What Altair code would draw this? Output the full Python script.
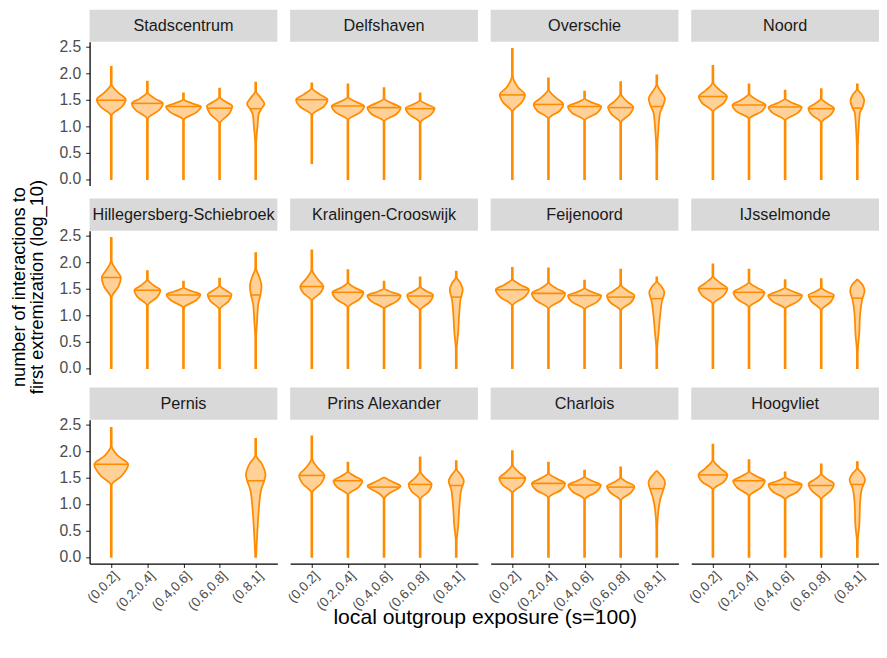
import altair as alt
import pandas as pd
import numpy as np

districts = ["Stadscentrum", "Delfshaven", "Overschie", "Noord",
             "Hillegersberg-Schiebroek", "Kralingen-Crooswijk", "Feijenoord", "IJsselmonde",
             "Pernis", "Prins Alexander", "Charlois", "Hoogvliet"]
bins = ["(0,0.2]", "(0.2,0.4]", "(0.4,0.6]", "(0.6,0.8]", "(0.8,1]"]
S = 0.012  # half-width of the thin violin tail (category units)

# Each violin: (outline points [log10 value, half-width in category units], median)
stadscentrum = [
    ([[0, S], [1.20, S], [1.37, 0.30], [1.50, 0.40], [1.63, 0.20], [1.79, S], [2.12, S]], 1.49),
    ([[0, S], [1.14, S], [1.30, 0.32], [1.43, 0.43], [1.52, 0.21], [1.64, S], [1.84, S]], 1.43),
    ([[0, S], [1.12, S], [1.26, 0.36], [1.37, 0.485], [1.43, 0.24], [1.51, S], [1.62, S]], 1.37),
    ([[0, S], [1.05, S], [1.23, 0.26], [1.38, 0.35], [1.46, 0.17], [1.55, S], [1.71, S]], 1.34),
    ([[0, S], [0.65, S], [1.0, 0.05], [1.22, 0.08], [1.32, 0.15], [1.42, 0.24], [1.54, 0.13], [1.66, S], [1.82, S]], 1.33),
]
delfshaven = [
    ([[0.30, S], [1.21, S], [1.37, 0.33], [1.50, 0.435], [1.60, 0.22], [1.72, S], [1.81, S]], 1.50),
    ([[0, S], [1.12, S], [1.26, 0.34], [1.38, 0.45], [1.46, 0.22], [1.55, S], [1.79, S]], 1.38),
    ([[0, S], [1.09, S], [1.23, 0.35], [1.35, 0.46], [1.43, 0.23], [1.52, S], [1.72, S]], 1.35),
    ([[0, S], [1.07, S], [1.22, 0.30], [1.34, 0.40], [1.41, 0.20], [1.49, S], [1.62, S]], 1.33),
    None,
]
overschie = [
    ([[0, S], [1.27, S], [1.45, 0.26], [1.59, 0.35], [1.74, 0.15], [1.95, S], [2.46, S]], 1.59),
    ([[0, S], [1.14, S], [1.29, 0.31], [1.41, 0.41], [1.54, 0.20], [1.69, S], [1.90, S]], 1.41),
    ([[0, S], [1.11, S], [1.25, 0.35], [1.37, 0.46], [1.44, 0.23], [1.52, S], [1.65, S]], 1.37),
    ([[0, S], [1.07, S], [1.23, 0.26], [1.36, 0.35], [1.47, 0.17], [1.61, S], [1.83, S]], 1.35),
    ([[0, S], [0.45, S], [1.0, 0.05], [1.25, 0.09], [1.38, 0.17], [1.52, 0.225], [1.65, 0.12], [1.78, S], [1.96, S]], 1.37),
]
noord = [
    ([[0, S], [1.27, S], [1.43, 0.29], [1.56, 0.39], [1.68, 0.19], [1.83, S], [2.14, S]], 1.56),
    ([[0, S], [1.14, S], [1.28, 0.35], [1.40, 0.46], [1.49, 0.23], [1.61, S], [1.79, S]], 1.40),
    ([[0, S], [1.11, S], [1.25, 0.35], [1.36, 0.46], [1.43, 0.23], [1.52, S], [1.67, S]], 1.36),
    ([[0, S], [1.07, S], [1.22, 0.27], [1.34, 0.355], [1.42, 0.18], [1.52, S], [1.70, S]], 1.33),
    ([[0, S], [0.5, S], [1.0, 0.04], [1.25, 0.07], [1.35, 0.14], [1.49, 0.19], [1.60, 0.12], [1.70, S], [1.79, S]], 1.34),
]
hillegersberg = [
    ([[0, S], [1.33, S], [1.54, 0.20], [1.71, 0.265], [1.85, 0.14], [2.02, S], [2.46, S]], 1.71),
    ([[0, S], [1.18, S], [1.34, 0.27], [1.47, 0.36], [1.56, 0.18], [1.67, S], [1.83, S]], 1.47),
    ([[0, S], [1.14, S], [1.28, 0.35], [1.39, 0.47], [1.45, 0.24], [1.52, S], [1.63, S]], 1.38),
    ([[0, S], [1.11, S], [1.26, 0.25], [1.39, 0.33], [1.47, 0.17], [1.56, S], [1.69, S]], 1.36),
    ([[0, S], [0.55, S], [0.9, 0.04], [1.2, 0.07], [1.38, 0.13], [1.55, 0.16], [1.72, 0.10], [1.88, S], [2.17, S]], 1.38),
]
kralingen = [
    ([[0, S], [1.27, S], [1.42, 0.24], [1.54, 0.32], [1.68, 0.16], [1.86, S], [2.22, S]], 1.54),
    ([[0, S], [1.15, S], [1.30, 0.32], [1.43, 0.43], [1.51, 0.21], [1.62, S], [1.85, S]], 1.43),
    ([[0, S], [1.12, S], [1.26, 0.35], [1.37, 0.46], [1.43, 0.23], [1.50, S], [1.63, S]], 1.37),
    ([[0, S], [1.09, S], [1.25, 0.27], [1.38, 0.36], [1.45, 0.18], [1.54, S], [1.71, S]], 1.36),
    ([[0, S], [0.35, S], [0.65, 0.05], [1.05, 0.085], [1.30, 0.12], [1.48, 0.18], [1.60, 0.12], [1.72, S], [1.82, S]], 1.34),
]
feijenoord = [
    ([[0, S], [1.18, S], [1.35, 0.35], [1.48, 0.46], [1.57, 0.23], [1.68, S], [1.89, S]], 1.48),
    ([[0, S], [1.12, S], [1.28, 0.35], [1.41, 0.46], [1.50, 0.23], [1.62, S], [1.88, S]], 1.41),
    ([[0, S], [1.11, S], [1.25, 0.35], [1.37, 0.46], [1.43, 0.23], [1.51, S], [1.65, S]], 1.37),
    ([[0, S], [1.09, S], [1.24, 0.29], [1.37, 0.38], [1.46, 0.19], [1.58, S], [1.86, S]], 1.34),
    ([[0, S], [0.35, S], [0.67, 0.05], [1.04, 0.10], [1.25, 0.14], [1.43, 0.21], [1.55, 0.12], [1.64, S], [1.71, S]], 1.31),
]
ijsselmonde = [
    ([[0, S], [1.21, S], [1.37, 0.30], [1.50, 0.40], [1.61, 0.20], [1.74, S], [1.96, S]], 1.50),
    ([[0, S], [1.15, S], [1.30, 0.32], [1.43, 0.43], [1.52, 0.21], [1.62, S], [1.86, S]], 1.43),
    ([[0, S], [1.12, S], [1.26, 0.35], [1.37, 0.47], [1.44, 0.24], [1.52, S], [1.66, S]], 1.37),
    ([[0, S], [1.09, S], [1.25, 0.26], [1.38, 0.35], [1.44, 0.17], [1.52, S], [1.68, S]], 1.35),
    ([[0, S], [0.30, S], [0.62, 0.05], [1.04, 0.08], [1.28, 0.13], [1.46, 0.20], [1.58, 0.14], [1.64, 0.05], [1.67, S]], 1.32),
]
pernis = [
    ([[0, S], [1.36, S], [1.54, 0.30], [1.75, 0.47], [1.92, 0.17], [2.10, S], [2.44, S]], 1.75),
    None,
    None,
    None,
    ([[0, S], [0.15, 0.02], [0.40, 0.04], [0.84, 0.08], [1.27, 0.15], [1.45, 0.24], [1.55, 0.27], [1.76, 0.17], [1.92, S], [2.23, S]], 1.44),
]
prins_alexander = [
    ([[0, S], [1.21, S], [1.39, 0.26], [1.54, 0.35], [1.68, 0.17], [1.86, S], [2.28, S]], 1.54),
    ([[0, S], [1.18, S], [1.32, 0.30], [1.44, 0.40], [1.52, 0.20], [1.62, S], [1.78, S]], 1.44),
    ([[0, S], [1.10, S], [1.20, 0.14], [1.28, 0.35], [1.34, 0.46], [1.40, 0.30], [1.46, 0.12], [1.50, S]], 1.32),
    ([[0, S], [1.09, S], [1.24, 0.24], [1.37, 0.32], [1.48, 0.16], [1.62, S], [1.88, S]], 1.37),
    ([[0, S], [0.30, S], [0.56, 0.05], [1.06, 0.10], [1.28, 0.14], [1.43, 0.21], [1.55, 0.13], [1.66, S], [1.81, S]], 1.35),
]
charlois = [
    ([[0, S], [1.21, S], [1.36, 0.27], [1.49, 0.36], [1.60, 0.18], [1.74, S], [2.00, S]], 1.49),
    ([[0, S], [1.12, S], [1.27, 0.35], [1.39, 0.46], [1.48, 0.23], [1.58, S], [1.78, S]], 1.39),
    ([[0, S], [1.09, S], [1.24, 0.34], [1.36, 0.45], [1.43, 0.23], [1.52, S], [1.63, S]], 1.36),
    ([[0, S], [1.07, S], [1.22, 0.29], [1.34, 0.38], [1.41, 0.19], [1.50, S], [1.69, S]], 1.32),
    ([[0, S], [0.50, S], [0.85, 0.04], [1.10, 0.10], [1.27, 0.18], [1.40, 0.23], [1.50, 0.17], [1.58, 0.07], [1.62, S]], 1.29),
]
hoogvliet = [
    ([[0, S], [1.27, S], [1.42, 0.30], [1.55, 0.40], [1.68, 0.20], [1.83, S], [2.12, S]], 1.55),
    ([[0, S], [1.15, S], [1.31, 0.33], [1.44, 0.44], [1.52, 0.22], [1.62, S], [1.83, S]], 1.44),
    ([[0, S], [1.09, S], [1.24, 0.35], [1.37, 0.46], [1.43, 0.23], [1.51, S], [1.60, S]], 1.37),
    ([[0, S], [1.09, S], [1.25, 0.26], [1.38, 0.35], [1.47, 0.17], [1.57, S], [1.75, S]], 1.35),
    ([[0, S], [0.30, S], [0.56, 0.05], [1.06, 0.08], [1.30, 0.13], [1.46, 0.215], [1.58, 0.13], [1.68, S], [1.79, S]], 1.37),
]
violins = [stadscentrum, delfshaven, overschie, noord, hillegersberg, kralingen,
           feijenoord, ijsselmonde, pernis, prins_alexander, charlois, hoogvliet]

y_ticks = [0.0, 0.5, 1.0, 1.5, 2.0, 2.5]
y_title = ["number of interactions to", "first extremization (log_10)"]
x_title = "local outgroup exposure (s=100)"

# ---- build one long table ----
rows = []
for d, vs in zip(districts, violins):
    for i, item in enumerate(vs):
        if item is None:
            continue
        pts, med = item
        pos = i + 1
        vid = f"{d}-{i}"
        for v, w in pts:
            rows.append({"district": d, "kind": "outline", "vid": vid, "v": v, "xl": pos - w, "xr": pos + w})
        vv = [p[0] for p in pts]
        ww = [p[1] for p in pts]
        mw = float(np.interp(med, vv, ww))
        rows.append({"district": d, "kind": "median", "vid": vid, "v": med, "xl": pos - mw, "xr": pos + mw})
df = pd.DataFrame(rows)

PW, PH, SH = 191.0, 146.3, 32.7
ORANGE = "#FF8C00"
FONT = "Liberation Sans"
XDOM = [0.4, 5.6]
YDOM = [-0.1235, 2.593]

label_expr = "[" + ",".join(f"'{b}'" for b in bins) + "][datum.value - 1]"

x_axis = alt.Axis(values=[1, 2, 3, 4, 5], labelExpr=label_expr, title=None, grid=False,
                  labelAngle=315, labelAlign="right", labelBaseline="top",
                  labelOverlap=False, labelBound=False, labelFlush=False,
                  labelFontSize=13.5, labelColor="#4D4D4D", labelFont=FONT, labelPadding=1,
                  tickColor="#333333", tickSize=4, tickWidth=1.1,
                  domainColor="#000000", domainWidth=1.3)
y_axis = alt.Axis(values=y_ticks, format=".1f", title=None, grid=False,
                  labelOverlap=False, labelBound=False, labelFlush=False,
                  labelFontSize=16, labelColor="#4D4D4D", labelFont=FONT, labelPadding=5,
                  tickColor="#333333", tickSize=4, tickWidth=1.1,
                  domainColor="#000000", domainWidth=1.3)


def panel(idx, d):
    r, c = divmod(idx, 4)
    xs = alt.Scale(domain=XDOM, nice=False, zero=False)
    ys = alt.Scale(domain=YDOM, nice=False, zero=False)
    xa = x_axis if r == 2 else None
    ya = y_axis if c == 0 else None
    xenc = alt.X("xl:Q", scale=xs, axis=xa)
    yenc = alt.Y("v:Q", scale=ys, axis=ya)

    area = alt.Chart().transform_filter(alt.datum.kind == "outline").mark_area(
        orient="horizontal", interpolate="monotone", fill="#FFD199", stroke=ORANGE, strokeWidth=1.8
    ).encode(x=xenc, x2="xr:Q", y=yenc, detail="vid:N")

    med = alt.Chart().transform_filter(alt.datum.kind == "median").mark_rule(
        color=ORANGE, strokeWidth=1.6
    ).encode(x=xenc, x2="xr:Q", y=yenc)

    strip = alt.Chart().transform_aggregate(n="count()").mark_rect(
        color="#D9D9D9"
    ).encode(x=alt.value(0), x2=alt.value(PW), y=alt.value(-SH), y2=alt.value(0))

    strip_text = alt.Chart().transform_aggregate(n="count()").mark_text(
        font=FONT, fontSize=16.5, color="#1A1A1A", align="center", baseline="middle"
    ).encode(text=alt.value(d), x=alt.value(PW / 2), y=alt.value(-SH / 2 + 0.5))

    layers = [area, med, strip, strip_text]

    if d == "Hillegersberg-Schiebroek":
        for k, xo in enumerate([-71.3, -53.3]):
            layers.append(alt.Chart().transform_aggregate(n="count()").mark_text(
                font=FONT, fontSize=18.5, color="#000000", angle=270, align="center", baseline="middle"
            ).encode(text=alt.value(y_title[k]), x=alt.value(xo), y=alt.value(57.3)))
    if d == "Charlois":
        layers.append(alt.Chart().transform_aggregate(n="count()").mark_text(
            font=FONT, fontSize=21.5, color="#000000", align="center", baseline="alphabetic"
        ).encode(text=alt.value(x_title), x=alt.value(-5.6), y=alt.value(PH + 61.5)))

    return alt.layer(*layers).transform_filter(alt.datum.district == d).properties(width=PW, height=PH)


panels = [panel(i, d) for i, d in enumerate(districts)]

chart = alt.concat(
    *panels, columns=4, data=df,
    spacing={"row": 45.2, "column": 13},
).properties(
    bounds="flush",
    padding={"left": 2, "top": -4, "right": 0, "bottom": 0},
).configure(
    font=FONT
).configure_view(
    stroke=None, strokeWidth=0
)

chart.save("out.html", embed_options={"renderer": "svg", "actions": False})
